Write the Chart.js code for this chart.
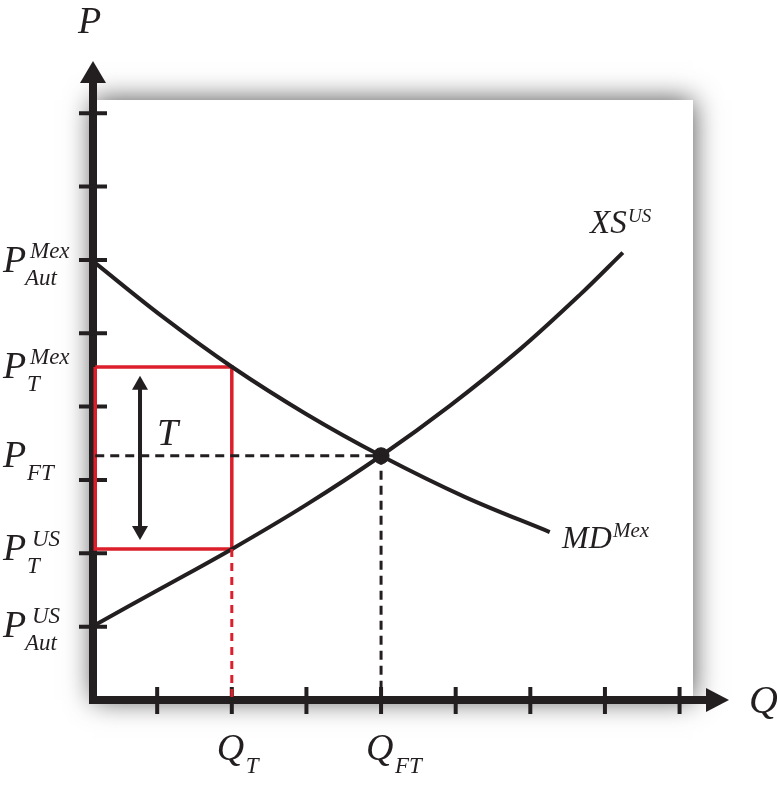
<!DOCTYPE html>
<html><head><meta charset="utf-8">
<script src="https://cdn.jsdelivr.net/npm/chart.js@4"></script>
<style>html,body{margin:0;padding:0;background:#fff}canvas{display:block}</style>
</head><body>
<canvas id="c" width="777" height="785"></canvas>
<script>
// ---- data ----
const xsQ = [0.143, 1.067, 2.004, 2.995, 4.0, 4.92, 5.86, 6.66, 7.24];
const xsP = [1.01, 1.53, 2.06, 2.66, 3.33, 4.01, 4.78, 5.52, 6.10];
const mdQ = [0.143, 1.067, 2.004, 2.995, 4.0, 5.12, 6.26];
const mdP = [5.98, 5.23, 4.54, 3.90, 3.33, 2.77, 2.29];
const qTicks = [1, 2, 3, 4, 5, 6, 7, 8];
const pTicks = [1, 2, 3, 4, 5, 6, 7, 8];
const qT = 2.0, qFT = 4.0;
const pAutMex = 5.98, pTMex = 4.54, pFT = 3.33, pTUS = 2.06, pAutUS = 1.01;
const qAxis0 = 0.17;
const tArrowQ = 0.77, tArrowTop = 4.42, tArrowBottom = 2.18;
const pLabelMain = ['P', 'P', 'P', 'P', 'P'];
const pLabelSup = ['Mex', 'Mex', '', 'US', 'US'];
const pLabelSub = ['Aut', 'T', 'FT', 'T', 'Aut'];
const pLabelAt = [pAutMex, pTMex, pFT, pTUS, pAutUS];
const qLabelSub = ['T', 'FT'];
const qLabelAt = [qT, qFT];

const INK = '#231f20';
const RED = '#dc1f2a';
const SERIF = '"Liberation Serif", "DejaVu Serif", serif';

function pts(xs, ys) { return xs.map((x, i) => ({x, y: ys[i]})); }

const shadowPlugin = {
  id: 'shadow',
  beforeDraw(chart) {
    const {ctx, chartArea: a} = chart;
    ctx.save();
    ctx.fillStyle = '#fff';
    ctx.fillRect(0, 0, chart.width, chart.height);
    ctx.shadowColor = 'rgba(0,0,0,0.7)';
    ctx.shadowBlur = 26;
    ctx.fillRect(a.left, a.top, a.right - a.left, a.bottom - a.top);
    ctx.shadowBlur = 0;
    ctx.shadowColor = 'transparent';
    ctx.fillRect(a.left, a.top, a.right - a.left, a.bottom - a.top);
    ctx.restore();
  }
};

const axesPlugin = {
  id: 'axesDraw',
  beforeDatasetsDraw(chart) {
    const {ctx, scales: {x, y}} = chart;
    const ox = x.getPixelForValue(x.min), oy = y.getPixelForValue(0);
    ctx.save();
    ctx.strokeStyle = INK; ctx.fillStyle = INK;
    ctx.lineWidth = 8; ctx.lineCap = 'butt';
    ctx.beginPath();
    ctx.moveTo(ox, oy + 4); ctx.lineTo(ox, 80);
    ctx.moveTo(ox - 4, oy); ctx.lineTo(710, oy);
    ctx.stroke();
    // arrowheads
    ctx.beginPath();
    ctx.moveTo(ox, 61); ctx.lineTo(ox - 13, 83); ctx.lineTo(ox + 13, 83); ctx.closePath(); ctx.fill();
    ctx.beginPath();
    ctx.moveTo(729, oy); ctx.lineTo(706, oy - 12); ctx.lineTo(706, oy + 12); ctx.closePath(); ctx.fill();
    // ticks
    ctx.lineWidth = 4;
    ctx.beginPath();
    pTicks.forEach(v => { const py = y.getPixelForValue(v); ctx.moveTo(ox - 14, py); ctx.lineTo(ox + 14, py); });
    qTicks.forEach(v => { const px = x.getPixelForValue(v); ctx.moveTo(px, oy - 13); ctx.lineTo(px, oy + 14); });
    ctx.stroke();
    ctx.restore();
  },
  afterDatasetsDraw(chart) {
    const {ctx, scales: {x, y}} = chart;
    ctx.save();
    ctx.fillStyle = INK; ctx.strokeStyle = INK;
    // double arrow T
    const ax = x.getPixelForValue(tArrowQ), at = y.getPixelForValue(tArrowTop), ab = y.getPixelForValue(tArrowBottom);
    ctx.lineWidth = 4;
    ctx.beginPath(); ctx.moveTo(ax, at + 10); ctx.lineTo(ax, ab - 10); ctx.stroke();
    ctx.beginPath(); ctx.moveTo(ax, at); ctx.lineTo(ax - 8, at + 14); ctx.lineTo(ax + 8, at + 14); ctx.closePath(); ctx.fill();
    ctx.beginPath(); ctx.moveTo(ax, ab); ctx.lineTo(ax - 8, ab - 14); ctx.lineTo(ax + 8, ab - 14); ctx.closePath(); ctx.fill();
    ctx.textBaseline = 'alphabetic'; ctx.textAlign = 'left';
    const it = s => 'italic ' + s + 'px ' + SERIF;
    ctx.font = it(38); ctx.fillText('T', ax + 17, (at + ab) / 2 - 13);
    // axis titles
    ctx.font = it(38); ctx.fillText('P', 78, 33);
    ctx.font = it(40); ctx.fillText('Q', 749, 713);
    // P labels
    pLabelAt.forEach((v, i) => {
      const b = y.getPixelForValue(v) + 11;
      ctx.font = it(38); ctx.fillText(pLabelMain[i], 3, b);
      ctx.font = it(23);
      if (pLabelSup[i]) ctx.fillText(pLabelSup[i], pLabelSup[i] === 'US' ? 32 : 30, b - 14);
      ctx.fillText(pLabelSub[i], pLabelSub[i] === 'Aut' ? 25 : 27, b + 13);
    });
    // Q labels
    qLabelAt.forEach((v, i) => {
      const px = x.getPixelForValue(v);
      ctx.font = it(38); ctx.fillText('Q', px - 15, 760);
      ctx.font = it(23); ctx.fillText(qLabelSub[i], px + 14, 773);
    });
    // curve labels
    ctx.font = it(33); ctx.fillText('XS', 590, 233);
    ctx.font = it(19); ctx.fillText('US', 628, 222);
    ctx.font = it(32); ctx.fillText('MD', 562, 548);
    ctx.font = it(21); ctx.fillText('Mex', 613, 537);
    ctx.restore();
  }
};

const lineBase = {showLine: true, pointRadius: 0, fill: false, clip: false, tension: 0};

new Chart(document.getElementById('c'), {
  type: 'scatter',
  data: {
    datasets: [
      {...lineBase, label: 'red dashed', data: [{x: qT, y: pTUS}, {x: qT, y: 0}], borderColor: RED, borderWidth: 3, borderDash: [8, 6]},
      {...lineBase, label: 'PFT dashed', data: [{x: qAxis0, y: pFT}, {x: qFT, y: pFT}], borderColor: INK, borderWidth: 3, borderDash: [9, 6]},
      {...lineBase, label: 'QFT dashed', data: [{x: qFT, y: pFT}, {x: qFT, y: 0}], borderColor: INK, borderWidth: 3, borderDash: [9, 6]},
      {...lineBase, label: 'XS', data: pts(xsQ, xsP), borderColor: INK, borderWidth: 4, tension: 0.35},
      {...lineBase, label: 'MD', data: pts(mdQ, mdP), borderColor: INK, borderWidth: 4, tension: 0.35},
      {...lineBase, label: 'tariff box', data: [{x: qAxis0, y: pTMex}, {x: qT, y: pTMex}, {x: qT, y: pTUS}, {x: qAxis0, y: pTUS}, {x: qAxis0, y: pTMex}], borderColor: RED, borderWidth: 3.5, borderJoinStyle: 'miter'},
      {label: 'eq', data: [{x: qFT, y: pFT}], pointRadius: 8, pointBackgroundColor: INK, pointBorderColor: INK, clip: false}
    ]
  },
  options: {
    responsive: false,
    animation: false,
    events: [],
    layout: {padding: {left: 93, top: 100, right: 84, bottom: 85}},
    plugins: {legend: {display: false}, tooltip: {enabled: false}},
    scales: {
      x: {type: 'linear', display: false, min: 0.14, max: 8.18},
      y: {type: 'linear', display: false, min: 0, max: 8.18}
    }
  },
  plugins: [shadowPlugin, axesPlugin]
});
</script>
</body></html>
